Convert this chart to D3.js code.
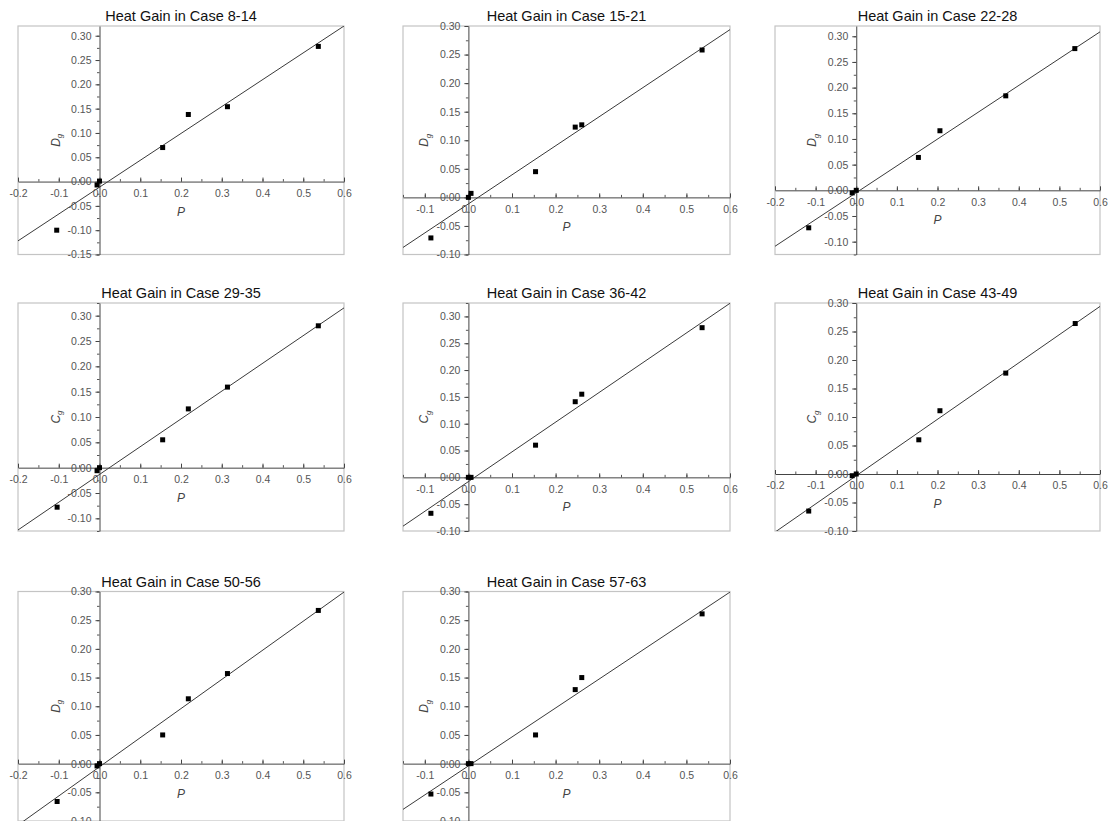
<!DOCTYPE html>
<html>
<head>
<meta charset="utf-8">
<title>Heat Gain in Case</title>
<script src="https://cdn.jsdelivr.net/npm/d3@7"></script>
<style>
  body { margin: 0; background: #fff; overflow: hidden; }
  text { font-family: "Liberation Sans", Arial, sans-serif; }
</style>
</head>
<body>
<script>

// case ranges, one per panel
var caseRanges = ["8-14", "15-21", "22-28", "29-35", "36-42", "43-49", "50-56", "57-63"];
// letter of the y axis title (D_g or C_g)
var yLetters = ["D", "D", "D", "C", "C", "C", "D", "D"];

// P values (x)
var pValues = [
  [-0.105, -0.006, 0.000, 0.155, 0.218, 0.314, 0.537],
  [-0.086,  0.000, 0.006, 0.154, 0.245, 0.260, 0.536],
  [-0.117, -0.010, 0.000, 0.153, 0.206, 0.368, 0.538],
  [-0.104, -0.006, 0.000, 0.155, 0.218, 0.314, 0.537],
  [-0.086,  0.000, 0.006, 0.154, 0.245, 0.260, 0.536],
  [-0.117, -0.010, 0.000, 0.154, 0.206, 0.368, 0.539],
  [-0.104, -0.006, 0.000, 0.155, 0.218, 0.314, 0.537],
  [-0.086,  0.000, 0.006, 0.154, 0.245, 0.260, 0.536]
];

// D_g values (y)
var dValues = [
  [-0.100, -0.007, 0.001, 0.070, 0.138, 0.154, 0.278],
  [-0.071,  0.000, 0.007, 0.045, 0.123, 0.127, 0.258],
  [-0.073, -0.005, 0.000, 0.064, 0.116, 0.184, 0.276],
  [-0.078, -0.006, 0.000, 0.055, 0.116, 0.159, 0.280],
  [-0.067,  0.000, 0.000, 0.060, 0.141, 0.155, 0.279],
  [-0.065, -0.003, 0.000, 0.060, 0.111, 0.177, 0.264],
  [-0.066, -0.004, 0.000, 0.050, 0.113, 0.157, 0.267],
  [-0.053,  0.000, 0.000, 0.050, 0.129, 0.150, 0.261]
];

// fitted straight line in each panel
var fitSlope     = [0.5525, 0.5085, 0.522, 0.548, 0.554, 0.495, 0.5077, 0.505];
var fitIntercept = [-0.0115, -0.0114, -0.0046, -0.0134, -0.0079, -0.003, -0.0056, -0.004];

// tick labels
var xTicksWide   = [-0.2, -0.1, 0.0, 0.1, 0.2, 0.3, 0.4, 0.5, 0.6];
var xTicksNarrow = [-0.1, 0.0, 0.1, 0.2, 0.3, 0.4, 0.5, 0.6];
var yTicksLong   = [-0.15, -0.10, -0.05, 0.00, 0.05, 0.10, 0.15, 0.20, 0.25, 0.30];
var yTicksShort  = [-0.10, -0.05, 0.00, 0.05, 0.10, 0.15, 0.20, 0.25, 0.30];

// page layout (pixel boxes) and axis ranges of each panel
var cols = [[18, 344], [403, 730], [775, 1100]];
var rows = [[26, 254.5], [303, 531], [591.5, 821]];
var layout = [
  { c: 0, r: 0, xd: [-0.2, 0.6],  yd: [-0.15, 0.32],   xt: xTicksWide,   yt: yTicksLong },
  { c: 1, r: 0, xd: [-0.15, 0.6], yd: [-0.10, 0.30],   xt: xTicksNarrow, yt: yTicksShort },
  { c: 2, r: 0, xd: [-0.2, 0.6],  yd: [-0.125, 0.32],  xt: xTicksWide,   yt: yTicksShort },
  { c: 0, r: 1, xd: [-0.2, 0.6],  yd: [-0.125, 0.325], xt: xTicksWide,   yt: yTicksShort },
  { c: 1, r: 1, xd: [-0.15, 0.6], yd: [-0.10, 0.325],  xt: xTicksNarrow, yt: yTicksShort },
  { c: 2, r: 1, xd: [-0.2, 0.6],  yd: [-0.10, 0.30],   xt: xTicksWide,   yt: yTicksShort },
  { c: 0, r: 2, xd: [-0.2, 0.6],  yd: [-0.10, 0.30],   xt: xTicksWide,   yt: yTicksShort },
  { c: 1, r: 2, xd: [-0.15, 0.6], yd: [-0.10, 0.30],   xt: xTicksNarrow, yt: yTicksShort }
];

var width = 1112,
    height = 821;

var svg = d3.select("body").append("svg")
    .attr("width", width)
    .attr("height", height);

layout.forEach(function(L, i) {
  var x = d3.scaleLinear().domain(L.xd).range(cols[L.c]);
  var y = d3.scaleLinear().domain(L.yd).range([rows[L.r][1], rows[L.r][0]]);
  var x0 = x.range()[0], x1 = x.range()[1];
  var yTop = y.range()[1], yBot = y.range()[0];

  var g = svg.append("g");

  // grey layer frame
  g.append("rect")
      .attr("x", x0).attr("y", yTop)
      .attr("width", x1 - x0).attr("height", yBot - yTop)
      .attr("fill", "none")
      .attr("stroke", "#c4c4c4")
      .attr("stroke-width", 1.2);

  svg.append("clipPath").attr("id", "clip" + i)
    .append("rect")
      .attr("x", x0).attr("y", yTop)
      .attr("width", x1 - x0).attr("height", yBot - yTop);

  // fitted line
  g.append("line")
      .attr("clip-path", "url(#clip" + i + ")")
      .attr("x1", x(L.xd[0])).attr("y1", y(fitSlope[i] * L.xd[0] + fitIntercept[i]))
      .attr("x2", x(L.xd[1])).attr("y2", y(fitSlope[i] * L.xd[1] + fitIntercept[i]))
      .attr("stroke", "#3a3a3a")
      .attr("stroke-width", 1);

  // minor ticks
  var xMinor = d3.range(Math.round(L.xd[0] / 0.05), Math.round(L.xd[1] / 0.05) + 1).map(function(k) { return k * 0.05; });
  var yMinor = d3.range(Math.ceil(L.yd[0] / 0.025 - 1e-6), Math.floor(L.yd[1] / 0.025 + 1e-6) + 1).map(function(k) { return k * 0.025; });

  g.append("g")
      .attr("class", "minor")
      .attr("transform", "translate(0," + y(0) + ")")
      .call(d3.axisBottom(x).tickValues(xMinor).tickSize(-2.5).tickFormat(""))
      .call(function(s) { s.select(".domain").remove(); });

  g.append("g")
      .attr("class", "minor")
      .attr("transform", "translate(" + x(0) + ",0)")
      .call(d3.axisLeft(y).tickValues(yMinor).tickSize(2.5).tickFormat(""))
      .call(function(s) { s.select(".domain").remove(); });

  // x axis through y = 0
  g.append("g")
      .attr("class", "axis")
      .attr("transform", "translate(0," + y(0) + ")")
      .call(d3.axisBottom(x)
        .tickValues(L.xt)
        .tickSizeInner(-4)
        .tickSizeOuter(0)
        .tickPadding(8)
        .tickFormat(function(d) { return d.toFixed(1); }));

  // y axis through x = 0
  g.append("g")
      .attr("class", "axis")
      .attr("transform", "translate(" + x(0) + ",0)")
      .call(d3.axisLeft(y)
        .tickValues(L.yt)
        .tickSizeInner(4)
        .tickSizeOuter(0)
        .tickPadding(4)
        .tickFormat(function(d) { return d.toFixed(2); }));

  // data points
  var pts = pValues[i].map(function(p, j) { return [p, dValues[i][j]]; });
  g.selectAll("rect.pt")
      .data(pts)
    .enter().append("rect")
      .attr("class", "pt")
      .attr("x", function(d) { return x(d[0]) - 2.5; })
      .attr("y", function(d) { return y(d[1]) - 2.5; })
      .attr("width", 5)
      .attr("height", 5)
      .attr("fill", "#000");

  // title
  g.append("text")
      .attr("x", (x0 + x1) / 2)
      .attr("y", yTop - 5)
      .attr("text-anchor", "middle")
      .attr("font-size", "14.5px")
      .attr("fill", "#111")
      .text("Heat Gain in Case " + caseRanges[i]);

  // axis titles
  g.append("text")
      .attr("x", (x0 + x1) / 2)
      .attr("y", y(0) + 34)
      .attr("text-anchor", "middle")
      .attr("font-size", "12px")
      .attr("font-style", "italic")
      .attr("fill", "#444")
      .text("P");

  var yl = g.append("text")
      .attr("transform", "translate(" + (x(0) - 40) + "," + ((yTop + yBot) / 2) + ") rotate(-90)")
      .attr("text-anchor", "middle")
      .attr("font-size", "12px")
      .attr("font-style", "italic")
      .attr("fill", "#444");
  yl.append("tspan").text(yLetters[i]);
  yl.append("tspan").attr("font-size", "8px").attr("dy", "0.35em").text("g");
});

svg.selectAll(".axis .domain").attr("stroke", "#444").attr("stroke-width", 1);
svg.selectAll(".axis .tick line").attr("stroke", "#444");
svg.selectAll(".minor .tick line").attr("stroke", "#555");
svg.selectAll(".axis .tick text")
    .attr("fill", "#555")
    .attr("font-size", "10.5px")
    .attr("font-family", "'Liberation Sans', Arial, sans-serif");

</script>
</body>
</html>
